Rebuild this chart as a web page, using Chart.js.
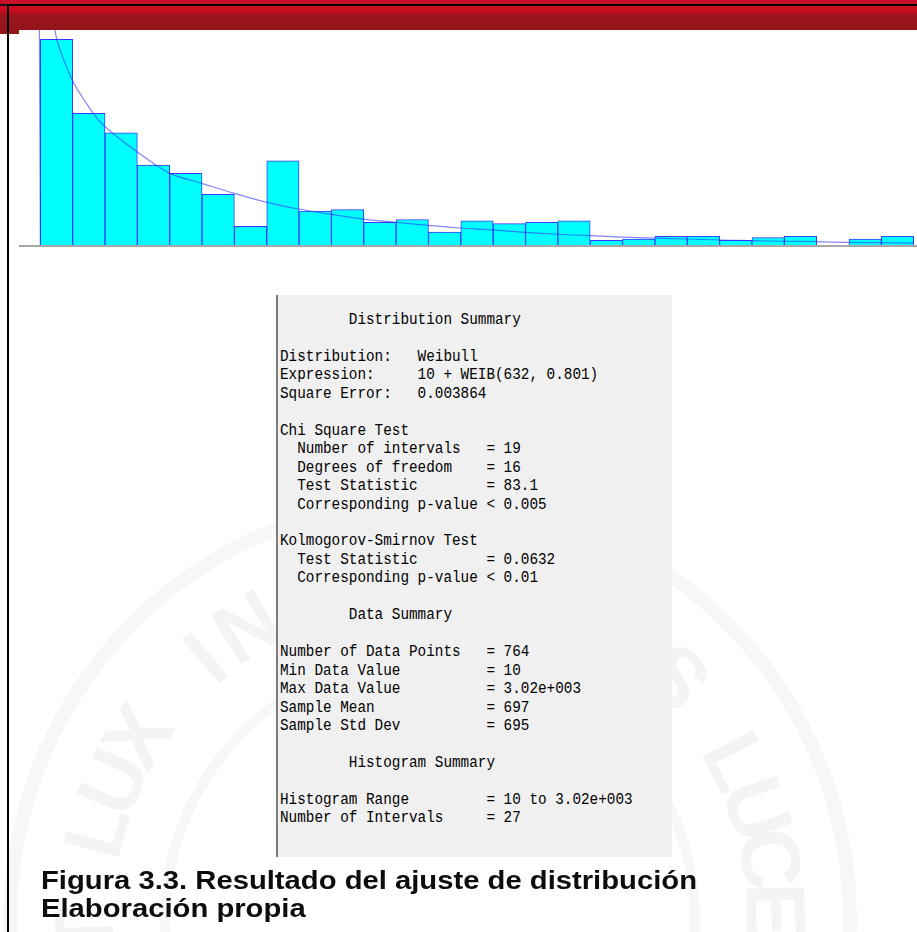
<!DOCTYPE html>
<html>
<head>
<meta charset="utf-8">
<script src="https://cdn.jsdelivr.net/npm/chart.js@4.4.0/dist/chart.umd.min.js"></script>
<style>
  html, body { margin: 0; padding: 0; background: #ffffff; }
  body { width: 917px; height: 932px; position: relative; overflow: hidden; }
  #seal { position: absolute; left: 0; top: 0; }
  #band {
    position: absolute; left: 0; top: 0; width: 917px; height: 30px;
    background: linear-gradient(#c8102a 0px, #c8102a 4px, #141414 4px, #141414 6px,
                                #cc0c20 6px, #c80c20 11px, #9a1420 16px, #951419 30px);
  }
  #bandTab { position: absolute; left: 0; top: 30px; width: 19px; height: 4px; background: #951419; }
  #frameTop { position: absolute; left: 7px; top: 4px; width: 910px; height: 2px; background: #000; }
  #frameLeft { position: absolute; left: 7px; top: 4px; width: 2px; height: 928px; background: #000; }
  #plotWrap { position: absolute; left: 19px; top: 30px; width: 898px; height: 220px; }
  #summaryBox {
    position: absolute; left: 276px; top: 295px; width: 396px; height: 562px;
    background: #f0f0f0; border-left: 2px solid #7c7c7c; box-sizing: border-box;
  }
  #summaryText {
    position: absolute; left: 280px; top: 311px; margin: 0;
    font-family: "Liberation Mono", monospace; font-size: 16px; line-height: 18.45px;
    color: #000; white-space: pre; transform-origin: 0 0;
  }
  #caption {
    position: absolute; left: 41px; top: 866px; margin: 0;
    font-family: "Liberation Sans", Arial, sans-serif; font-weight: bold;
    font-size: 26px; line-height: 28px; color: #0d0d0d; white-space: pre;
    transform-origin: 0 0;
  }
</style>
</head>
<body>
<canvas id="seal" width="917" height="932"></canvas>
<div id="band"></div>
<div id="bandTab"></div>
<div id="frameTop"></div>
<div id="frameLeft"></div>
<div id="plotWrap"><canvas id="hist" width="898" height="220"></canvas></div>
<div id="summaryBox"></div>
<pre id="summaryText"></pre>
<div id="caption"></div>

<script>
// Histogram of the observed data: range and number of intervals
const binStart = 10;
const binEnd = 3020;
const intervalCount = 27;

// Observations falling in each interval (764 in total)
const counts = [148, 95, 81, 58, 52, 37, 14, 61, 25, 26, 17, 19, 10, 18,
                16, 17, 18, 4, 5, 7, 7, 4, 6, 7, 0, 5, 7];

// Fitted Weibull density, expressed in observations per interval
const curveX = [10, 10, 60.7, 120.3, 192.6, 233, 343.3, 456, 566.2, 678.6, 790.2,
                900.5, 1012.9, 1123.2, 1234.8, 1346, 1456.4, 1569.1, 1680.4, 1791.7,
                1904.4, 2014.7, 2126, 2236.3, 2349, 2461.7, 2572, 2684.3, 2793.6,
                2905, 3020];
const curveY = [0, 320, 154.7, 118.9, 95.0, 85.4, 67.5, 52.0, 44.9, 37.7, 31.3,
                26.5, 22.7, 19.3, 17.0, 14.8, 12.9, 11.5, 9.8, 8.4,
                7.4, 6.4, 5.7, 5.0, 4.3, 3.8, 3.4, 3.1, 2.6,
                2.4, 2.1];

// Input Analyzer report
const summaryLines = [
  "        Distribution Summary",
  "",
  "Distribution:   Weibull",
  "Expression:     10 + WEIB(632, 0.801)",
  "Square Error:   0.003864",
  "",
  "Chi Square Test",
  "  Number of intervals   = 19",
  "  Degrees of freedom    = 16",
  "  Test Statistic        = 83.1",
  "  Corresponding p-value < 0.005",
  "",
  "Kolmogorov-Smirnov Test",
  "  Test Statistic        = 0.0632",
  "  Corresponding p-value < 0.01",
  "",
  "        Data Summary",
  "",
  "Number of Data Points   = 764",
  "Min Data Value          = 10",
  "Max Data Value          = 3.02e+003",
  "Sample Mean             = 697",
  "Sample Std Dev          = 695",
  "",
  "        Histogram Summary",
  "",
  "Histogram Range         = 10 to 3.02e+003",
  "Number of Intervals     = 27"
];

const captionLines = [
  "Figura 3.3. Resultado del ajuste de distribución",
  "Elaboración propia"
];

const sealMotto = "ET LUX IN TENEBRIS LUCET";

// ---- report text ----
const pre = document.getElementById('summaryText');
pre.textContent = summaryLines.join('\n');
{
  const m = document.createElement('canvas').getContext('2d');
  m.font = '16px "Liberation Mono"';
  const cw = m.measureText('0000000000').width / 10;
  pre.style.transform = 'scaleX(' + (8.6 / cw) + ')';
}

// ---- caption ----
const cap = document.getElementById('caption');
cap.textContent = captionLines.join('\n');
{
  const m = document.createElement('canvas').getContext('2d');
  m.font = 'bold 26px "Liberation Sans"';
  const w = m.measureText(captionLines[0]).width;
  cap.style.transform = 'scaleX(' + (656 / w) + ')';
}

// ---- faint university seal in the background ----
{
  const g = document.getElementById('seal').getContext('2d');
  const cx = 430, cy = 920;
  g.strokeStyle = 'rgba(0,0,0,0.03)';
  g.lineWidth = 14;
  g.beginPath(); g.arc(cx, cy, 420, 0, Math.PI * 2); g.stroke();
  g.lineWidth = 10;
  g.beginPath(); g.arc(cx, cy, 265, 0, Math.PI * 2); g.stroke();
  g.fillStyle = 'rgba(0,0,0,0.045)';
  g.font = 'bold 84px "Liberation Sans"';
  g.textAlign = 'center';
  g.textBaseline = 'middle';
  const r = 340;
  const step = 8.6 * Math.PI / 180;
  const startIdx = sealMotto.indexOf('LUX');
  const startAngle = -165 * Math.PI / 180 - startIdx * step;
  for (let i = 0; i < sealMotto.length; i++) {
    const ch = sealMotto[i];
    if (ch === ' ') continue;
    const a = startAngle + i * step;
    g.save();
    g.translate(cx + r * Math.cos(a), cy + r * Math.sin(a));
    g.rotate(a + Math.PI / 2);
    g.fillText(ch, 0, 0);
    g.restore();
  }
}

// ---- histogram with fitted curve ----
const binWidth = (binEnd - binStart) / intervalCount;
const binCentres = counts.map((_, i) => binStart + binWidth * (i + 0.5));

const baseline = {
  id: 'baseline',
  afterDatasetsDraw(chart) {
    const c = chart.ctx;
    const y = chart.scales.y.getPixelForValue(0);
    c.save();
    c.fillStyle = '#a6a6a6';
    c.fillRect(chart.chartArea.left, y - 1, chart.chartArea.right - chart.chartArea.left, 2);
    c.restore();
  }
};

new Chart(document.getElementById('hist'), {
  type: 'bar',
  data: {
    datasets: [
      {
        type: 'line',
        data: curveX.map((x, i) => ({ x: x, y: curveY[i] })),
        borderColor: 'rgba(50,50,255,0.6)',
        borderWidth: 1.2,
        pointRadius: 0,
        tension: 0.3,
        fill: false,
        order: 0
      },
      {
        type: 'bar',
        data: binCentres.map((x, i) => ({ x: x, y: counts[i] })),
        backgroundColor: '#00ffff',
        borderColor: '#3838ff',
        borderWidth: 1,
        categoryPercentage: 1,
        barPercentage: 1,
        order: 1
      }
    ]
  },
  options: {
    responsive: false,
    animation: false,
    devicePixelRatio: 1,
    layout: { padding: { left: 0, right: 0, top: 0, bottom: 4 } },
    plugins: { legend: { display: false }, tooltip: { enabled: false } },
    scales: {
      x: { type: 'linear', min: -63.4, max: 3031.4, offset: false, display: false },
      y: { type: 'linear', min: 0, max: 154.7, display: false }
    }
  },
  plugins: [baseline]
});
</script>
</body>
</html>
